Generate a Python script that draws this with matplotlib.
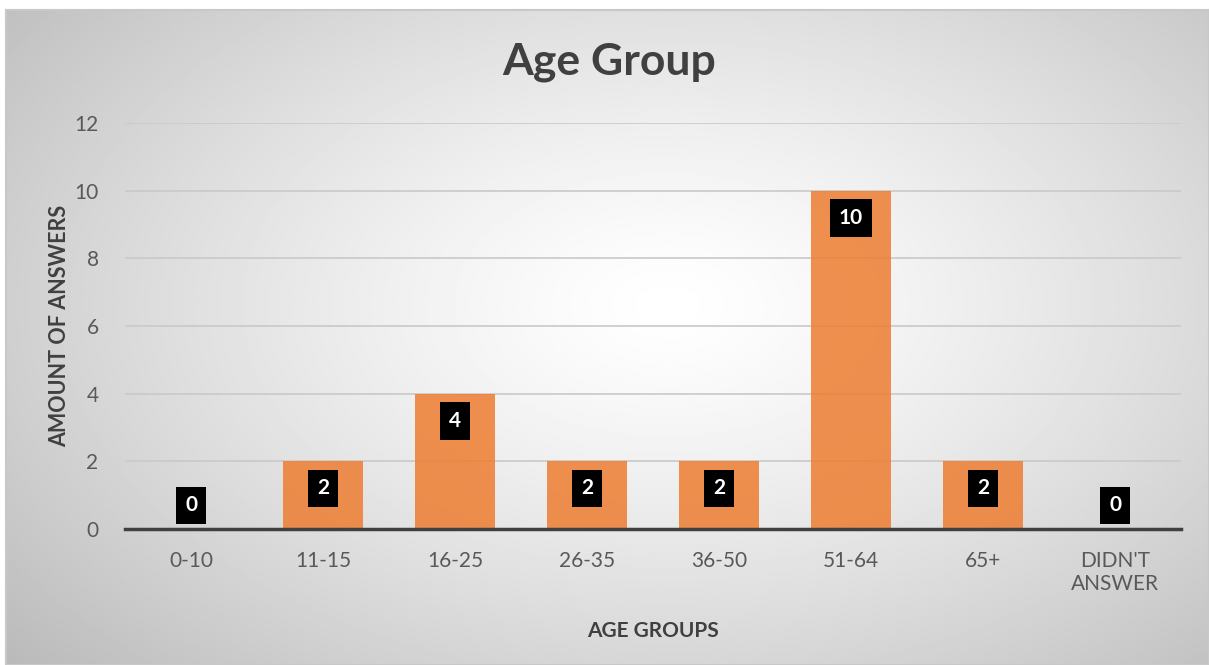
import numpy as np
import matplotlib.pyplot as plt

# Datos
categories = ["0-10", "11-15", "16-25", "26-35", "36-50", "51-64", "65+", "DIDN'T\nANSWER"]
answers = [0, 2, 4, 2, 2, 10, 2, 0]
y_ticks = [0, 2, 4, 6, 8, 10, 12]

W, H = 1209, 665
fig = plt.figure(figsize=(W / 100, H / 100), dpi=100, facecolor="white")
plt.rcParams['font.family'] = ['Lato', 'DejaVu Sans']

# Fondo con degradado radial
bg = fig.add_axes([6 / W, 0, 1 - 6 / W, 1 - 10 / H])
yy, xx = np.mgrid[0:1:300j, 0:1:600j]
r = np.sqrt(((xx - 0.55) / 0.75) ** 2 + ((yy - 0.45) / 0.85) ** 2)
shade = 1 - 0.28 * np.clip(r, 0, 1.2) ** 1.3
bg.imshow(shade, cmap="gray", vmin=0, vmax=1, aspect="auto", extent=[0, 1, 0, 1], origin="upper")
bg.set_xticks([])
bg.set_yticks([])
for s in bg.spines.values():
    s.set_color("#c8c8c8")
    s.set_linewidth(1.5)

# Grafico
ax = fig.add_axes([125 / W, 1 - 529 / H, 1056 / W, 406 / H])
ax.patch.set_alpha(0)
x = np.arange(len(categories))
ax.bar(x, answers, width=0.6, color="#ed7d31", alpha=0.85, zorder=3)
ax.set_xlim(-0.5, len(categories) - 0.5)
ax.set_ylim(0, 12)
ax.set_yticks(y_ticks)
ax.yaxis.grid(True, color="#c9c9c9", linewidth=1.2, zorder=0)
ax.set_xticks(x)
ax.set_xticklabels(categories, fontsize=15, color="#595959", linespacing=1.15)
ax.tick_params(axis="y", labelsize=15, labelcolor="#595959", length=0, pad=19)
ax.tick_params(axis="x", length=0, pad=16)
for s in ["top", "right", "left"]:
    ax.spines[s].set_visible(False)
ax.spines["bottom"].set_color("#404040")
ax.spines["bottom"].set_linewidth(2.5)
ax.spines["bottom"].set_zorder(4)

box = dict(boxstyle="square,pad=0.42", fc="black", ec="none")
for xi, v in zip(x, answers):
    if v == 0:
        ax.annotate(str(v), (xi, 0), xytext=(0, 17), textcoords="offset points",
                    ha="center", va="center", fontsize=15, fontweight="bold", color="white",
                    bbox=box, zorder=5)
    else:
        ax.annotate(str(v), (xi, v), xytext=(0, -19.5), textcoords="offset points",
                    ha="center", va="center", fontsize=15, fontweight="bold", color="white",
                    bbox=box, zorder=5)

ax.set_xlabel("AGE GROUPS", fontsize=15, fontweight="bold", color="#404040", labelpad=20)
ax.set_ylabel("AMOUNT OF ANSWERS", fontsize=15.5, fontweight="bold", color="#404040", labelpad=3)
fig.text(609 / W, 1 - 62 / H, "Age Group", ha="center", va="center",
         fontsize=32, fontweight="bold", color="#404040")

fig.savefig("out.png", dpi=100, facecolor="white")
